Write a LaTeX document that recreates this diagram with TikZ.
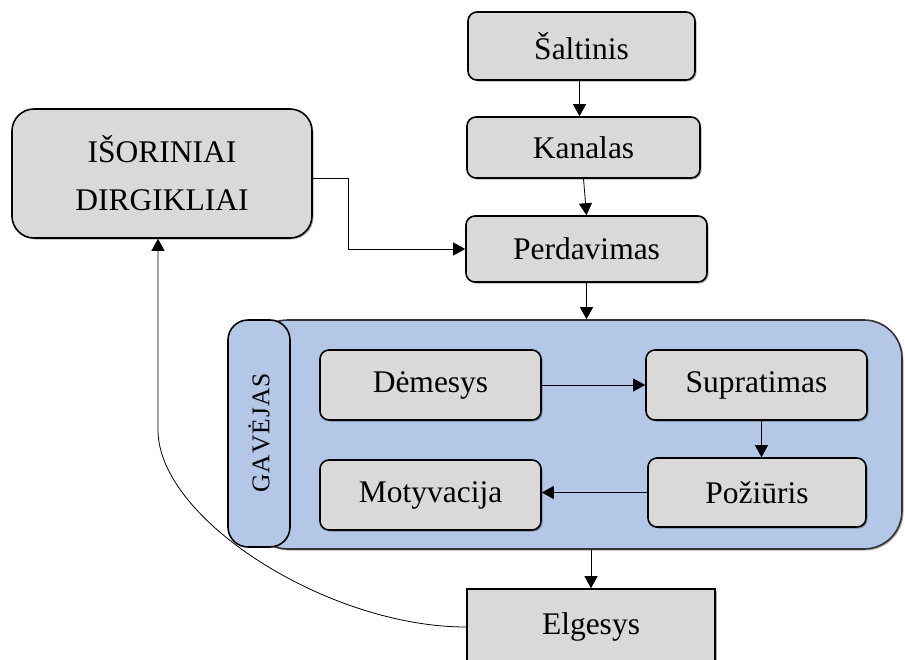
\documentclass[tikz,border=0pt]{standalone}
\usepackage{fontspec}
\setmainfont{Liberation Serif}
\usetikzlibrary{arrows.meta,shadows}
\definecolor{boxgray}{HTML}{D9D9D9}
\definecolor{lblue}{HTML}{B4C7E7}
\begin{document}
\begin{tikzpicture}[x=1pt,y=-1pt,
  shad/.style={drop shadow={shadow xshift=1.5pt,shadow yshift=-1.5pt,fill=black,opacity=0.3}},
  box/.style={draw=black,line width=1.6pt,fill=boxgray,rounded corners=9pt,
    font=\fontsize{31.5}{38}\selectfont,inner sep=0pt,shad},
  arr/.style={-{Triangle[length=12pt,width=13pt]},line width=0.8pt,draw=black}]
\clip (0,0) rectangle (905,659);
\path[use as bounding box] (0,0) rectangle (905,659);
% container
\node[draw=black!80,line width=1.6pt,fill=lblue,rounded corners=38pt,
  minimum width=652pt,minimum height=229pt,inner sep=0pt,shad] (cont) at (576,434.5) {};
\node[draw=black,line width=1.6pt,fill=lblue,rounded corners=20pt,
  minimum width=62pt,minimum height=227pt,inner sep=0pt] (gav) at (259,433.5) {};
\node[rotate=90,font=\fontsize{25.5}{30}\selectfont] (gavt) at (259,433) {G\kern1ptA\kern1ptV\kern1ptĖ\kern1ptJ\kern1ptA\kern1ptS};
% boxes
\node[box,minimum width=227pt,minimum height=68pt] (salt) at (581.5,46) {Šaltinis};
\node[box,minimum width=233pt,minimum height=61pt] (kan) at (583.5,147.5) {Kanalas};
\node[box,minimum width=241pt,minimum height=66pt] (perd) at (586.5,249) {Perdavimas};
\node[box,minimum width=300pt,minimum height=129pt,rounded corners=22pt,align=center,
  font=\fontsize{31.5}{48}\selectfont] (isor) at (162,173.5) {IŠORINIAI\\DIRGIKLIAI};
\node[box,minimum width=221pt,minimum height=70pt] (dem) at (430.5,385) {Dėmesys};
\node[box,minimum width=221pt,minimum height=70pt] (sup) at (756.5,385) {Supratimas};
\node[box,minimum width=221pt,minimum height=70pt] (mot) at (430.5,495) {Motyvacija};
\node[box,minimum width=218pt,minimum height=69pt] (poz) at (757,492.5) {Požiūris};
\node[box,rounded corners=0pt,minimum width=248pt,minimum height=76pt] (elg) at (591,627) {Elgesys};
% connectors
\draw[arr] ([xshift=-2pt]salt.south) -- ([xshift=-2pt]salt.south |- kan.north);
\draw[arr] (kan.south) -- (perd.north);
\draw[arr] (perd.south) -- (perd.south |- cont.north);
\draw[arr] (elg.north |- cont.south) -- (elg.north);
\draw[arr] (dem.east) -- (sup.west);
\draw[arr] ([xshift=5pt]sup.south) -- ([xshift=5pt]sup.south |- poz.north);
\draw[arr] (poz.west) -- (poz.west -| mot.east);
\draw[arr] ([yshift=-5pt]isor.east) -- ++(36,0) |- (perd.west);
\draw[arr] (elg.west) .. controls (328,627) and (158,519) .. (158,430)
  -- (158,0 |- isor.south);
\end{tikzpicture}
\end{document}
